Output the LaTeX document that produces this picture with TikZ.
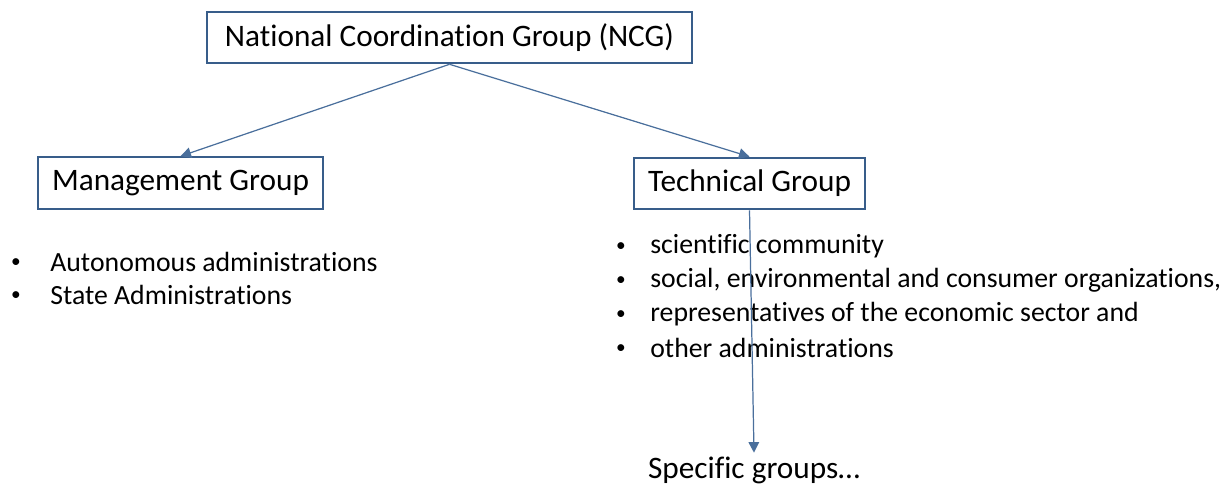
\documentclass[tikz,border=0pt]{standalone}
\usepackage{fontspec}
\setmainfont[Ligatures={NoCommon}]{Carlito}
\usetikzlibrary{arrows.meta, positioning}
\definecolor{boxline}{HTML}{385D8A}
\definecolor{arrline}{HTML}{4A6F9C}
\tikzset{
  group/.style={rectangle, draw=boxline, line width=1.2pt, fill=white,
                minimum height=1.03cm, align=center, font=\fontsize{17.8}{21}\selectfont},
  item/.style={anchor=west, inner sep=0pt, font=\fontsize{15.8}{19}\selectfont},
  dot/.style={anchor=center, inner sep=0pt, font=\fontsize{11}{13}\selectfont},
  link/.style={draw=arrline, line width=0.7pt, -{Triangle[length=6pt, width=6pt]}},
}
\begin{document}
\begin{tikzpicture}[x=0.02cm, y=-0.02cm]
  \useasboundingbox (0,0) rectangle (1229,486);

  \node[group, minimum width=9.7cm] (ncg) at (449.5,37.5) {National Coordination Group (NCG)};
  \node[group, minimum width=5.7cm] (mg) at (180.5,183) {Management Group};
  \node[group, minimum width=4.62cm] (tg) at (749.5,183.5) {Technical Group};

  % members of each group
  \foreach \txt [count=\i] in {Autonomous administrations, State Administrations} {
    \node[dot] (mgd\i) at (16,263+33*\i-33) {\textbullet};
    \node[item] (mgi\i) at (50,262+33*\i-33) {\txt};
  }
  \foreach \txt [count=\i] in {scientific community,
      {social, environmental and consumer organizations,},
      representatives of the economic sector and,
      other administrations} {
    \node[dot] (tgd\i) at (621,247+34*\i-34) {\textbullet};
    \node[item] (tgi\i) at (650,246+34*\i-34) {\txt};
  }

  \node[font=\fontsize{17.8}{21}\selectfont, inner sep=2pt] (sg) at (754,470) {Specific groups\ldots};

  \draw[link] (ncg.south) -- (mg.north);
  \draw[link] (ncg.south) -- (tg.north);
  \draw[link] (tg.south) -- (sg.north);
\end{tikzpicture}
\end{document}
